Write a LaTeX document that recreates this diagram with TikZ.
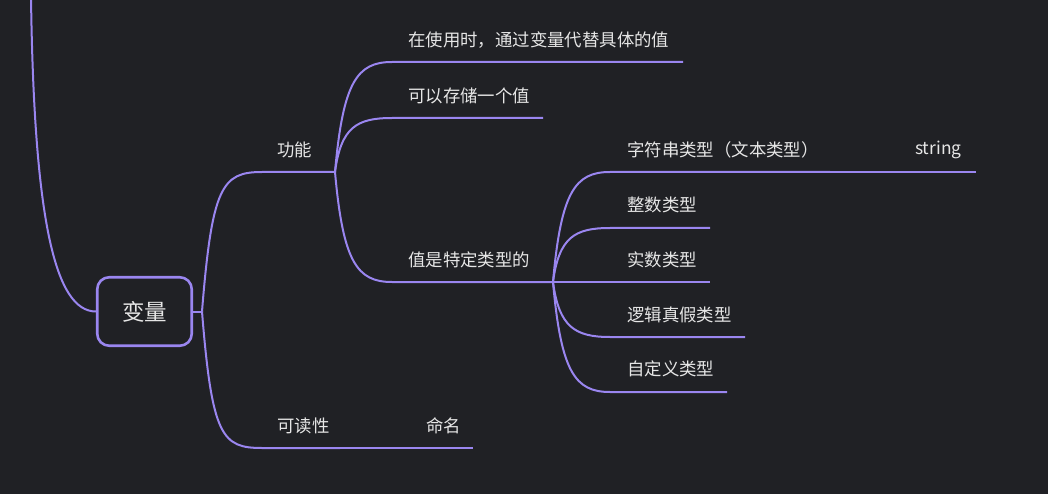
\documentclass[tikz,border=0pt]{standalone}
\usepackage{fontspec}
\setmainfont{Noto Sans CJK SC}
\definecolor{bg}{HTML}{202125}
\definecolor{branch}{HTML}{9A86F0}
\definecolor{ink}{HTML}{E6E6E6}
\tikzset{
  topic/.style={anchor=west, inner sep=0pt, text=ink, font=\fontsize{17.4}{20}\selectfont},
  line/.style={draw=branch, line width=2pt},
}

\begin{document}
\begin{tikzpicture}[x=1pt,y=-1pt]
\fill[bg] (0,0) rectangle (1048,494);
\useasboundingbox (0,0) rectangle (1048,494);

% root
\node[draw=branch, line width=2.6pt, rounded corners=12pt, minimum width=94.5pt, minimum height=68.5pt,
  inner sep=0pt, text=ink, font=\fontsize{22.5}{26}\selectfont] (root) at (144.5,311.5) {变量};
\coordinate (top) at (31,-3);
\coordinate (hub) at (202,311.5);
\draw[line] (top) .. controls (34,220) and (55,311.5) .. (root.west);
\draw[line] (root.east) -- (hub);

% level 1
\coordinate (func-s) at (262,172); \coordinate (func-e) at (335,172);
\coordinate (read-s) at (262,448); \coordinate (read-e) at (340,448);
\node[topic] (func) at (277,150) {功能};
\node[topic] (read) at (277,426) {可读性};
\draw[line] (hub) .. controls +(10,-125) and +(-40,0) .. (func-s) -- (func-e);
\draw[line] (hub) .. controls +(10,125) and +(-40,0) .. (read-s) -- (read-e);

% under 功能
\coordinate (use-s) at (392,62);    \coordinate (use-e) at (683,62);
\coordinate (store-s) at (392,118); \coordinate (store-e) at (543,118);
\coordinate (typed-s) at (392,282); \coordinate (typed-e) at (553,282);
\node[topic] (use) at (408,40) {在使用时，通过变量代替具体的值};
\node[topic] (store) at (408,96) {可以存储一个值};
\node[topic] (typed) at (408,260) {值是特定类型的};
\draw[line] (func-e) .. controls +(8,-90) and +(-35,0) .. (use-s) -- (use-e);
\draw[line] (func-e) .. controls +(6,-45) and +(-35,0) .. (store-s) -- (store-e);
\draw[line] (func-e) .. controls +(8,90) and +(-35,0) .. (typed-s) -- (typed-e);

% under 值是特定类型的
\coordinate (str-s) at (610,172);    \coordinate (str-e) at (830,172);
\coordinate (int-s) at (610,228);    \coordinate (int-e) at (710,228);
\coordinate (real-s) at (610,282);   \coordinate (real-e) at (710,282);
\coordinate (bool-s) at (610,337);   \coordinate (bool-e) at (745,337);
\coordinate (custom-s) at (610,392); \coordinate (custom-e) at (727,392);
\node[topic] (str) at (627,150) {字符串类型（文本类型）};
\node[topic] (int) at (627,205) {整数类型};
\node[topic] (real) at (627,260) {实数类型};
\node[topic] (bool) at (627,315) {逻辑真假类型};
\node[topic] (custom) at (627,369) {自定义类型};
\draw[line] (typed-e) .. controls +(8,-90) and +(-35,0) .. (str-s) -- (str-e);
\draw[line] (typed-e) .. controls +(6,-45) and +(-35,0) .. (int-s) -- (int-e);
\draw[line] (typed-e) -- (real-s) -- (real-e);
\draw[line] (typed-e) .. controls +(6,45) and +(-35,0) .. (bool-s) -- (bool-e);
\draw[line] (typed-e) .. controls +(8,90) and +(-35,0) .. (custom-s) -- (custom-e);

% leaves
\coordinate (string-e) at (976,172);
\coordinate (naming-e) at (473,448);
\node[topic] (string) at (915,150) {string};
\node[topic] (naming) at (426,426) {命名};
\draw[line] (str-e) -- (string-e);
\draw[line] (read-e) -- (naming-e);
\end{tikzpicture}
\end{document}
